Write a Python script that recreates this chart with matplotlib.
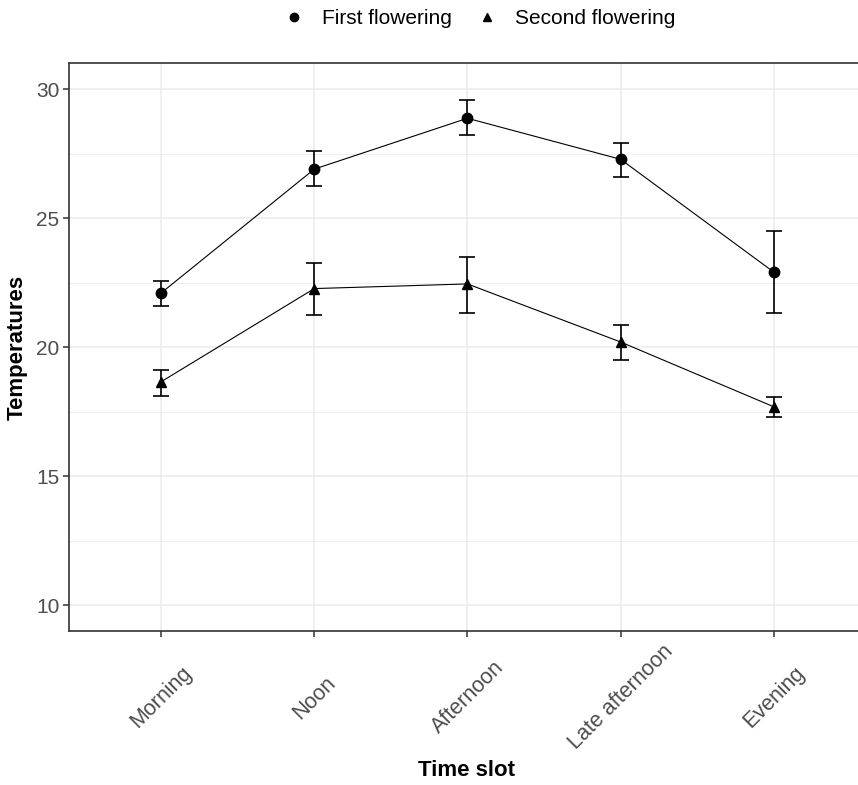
import matplotlib
matplotlib.use("Agg")
import matplotlib.pyplot as plt
import numpy as np
from matplotlib.lines import Line2D

plt.rcParams['font.family'] = ['Liberation Sans', 'DejaVu Sans']

categories = ["Morning", "Noon", "Afternoon", "Late afternoon", "Evening"]
first_mean = [22.1, 26.9, 28.87, 27.28, 22.91]
first_low = [21.59, 26.24, 28.23, 26.61, 21.33]
first_high = [22.58, 27.59, 29.58, 27.90, 24.50]
second_mean = [18.66, 22.27, 22.45, 20.2, 17.69]
second_low = [18.10, 21.23, 21.33, 19.50, 17.30]
second_high = [19.11, 23.28, 23.48, 20.84, 18.05]
series_names = ["First flowering", "Second flowering"]
y_ticks = [10, 15, 20, 25, 30]

W, H = 858, 785
fig = plt.figure(figsize=(W / 100, H / 100), dpi=100)
left, right, top, bottom = 69.3, 865.6, 63.3, 631.0
ax = fig.add_axes([left / W, (H - bottom) / H, (right - left) / W, (bottom - top) / H])

x = np.arange(len(categories))
grid_c = '#EBEBEB'
ax.set_axisbelow(True)
for yv in y_ticks:
    ax.axhline(yv, color=grid_c, lw=1.1, zorder=0)
for yv in [12.5, 17.5, 22.5, 27.5]:
    ax.axhline(yv, color=grid_c, lw=0.6, zorder=0)
for xv in x:
    ax.axvline(xv, color=grid_c, lw=1.1, zorder=0)

for mean, lo, hi, mk, ms in [(first_mean, first_low, first_high, 'o', 7.5),
                              (second_mean, second_low, second_high, '^', 7.5)]:
    mean = np.array(mean); lo = np.array(lo); hi = np.array(hi)
    ax.plot(x, mean, color='black', lw=0.8, zorder=2)
    ax.errorbar(x, mean, yerr=[mean - lo, hi - mean], fmt='none', ecolor='black',
                elinewidth=1.2, capsize=5.5, capthick=1.2, zorder=3)
    ax.plot(x, mean, linestyle='none', marker=mk, color='black', ms=ms, zorder=4)

ax.set_xlim(-0.6, 4.6)
ax.set_ylim(9, 31)
ax.set_yticks(y_ticks)
ax.set_xticks(x)
ax.set_xticklabels(categories, rotation=45)
ax.tick_params(axis='both', colors='#333333', labelcolor='#4D4D4D', labelsize=15,
               length=4, width=1.1)
ax.tick_params(axis='y', pad=3)
for lab in ax.get_xticklabels():
    lab.set_ha('center')
    lab.set_va('center')
    lab.set_fontsize(15.5)
ax.tick_params(axis='x', pad=44)

for side in ['left', 'bottom', 'top']:
    ax.spines[side].set_color('#333333')
    ax.spines[side].set_linewidth(1.2)
ax.spines['right'].set_visible(False)

ax.set_ylabel("Temperatures", fontsize=16, fontweight='bold', labelpad=6)
fig.text(466 / W, 1 - 771 / H, "Time slot", fontsize=16, fontweight='bold',
         ha='center', va='center')

handles = [Line2D([], [], linestyle='none', marker='o', color='black', ms=6),
           Line2D([], [], linestyle='none', marker='^', color='black', ms=6)]
fig.legend(handles, series_names, loc='center', bbox_to_anchor=(477 / W, 1 - 19 / H),
           ncol=2, frameon=False, fontsize=15, handletextpad=0.6, columnspacing=0.9,
           handlelength=1.5)

fig.savefig("out.png", dpi=100)
